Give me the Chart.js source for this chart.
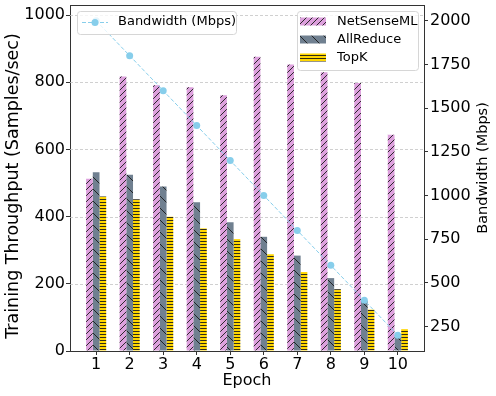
<!DOCTYPE html>
<html>
<head>
<meta charset="utf-8">
<script src="https://cdn.jsdelivr.net/npm/chart.js@4/dist/chart.umd.min.js"></script>
<style>
  html, body { margin: 0; padding: 0; background: #fff; }
  #c { display: block; }
</style>
</head>
<body>
<canvas id="c" width="496" height="396"></canvas>
<script>
const epochs = [1, 2, 3, 4, 5, 6, 7, 8, 9, 10];
const netSenseML = [513, 817, 791, 785, 761, 876, 853, 830, 798, 644];
const allReduce = [532, 525, 490, 443, 383, 340, 284, 217, 149, 48];
const topK = [460, 452, 400, 365, 333, 288, 235, 184, 123, 65];
const bandwidth = [2000, 1800, 1600, 1400, 1200, 1000, 800, 600, 400, 200];
const leftTicks = [0, 200, 400, 600, 800, 1000];
const rightTicks = [250, 500, 750, 1000, 1250, 1500, 1750, 2000];

const FONT = '"DejaVu Sans", "Liberation Sans", sans-serif';

function makePattern(bg, kind, T) {
  const c = document.createElement('canvas');
  c.width = T; c.height = T;
  const g = c.getContext('2d');
  g.fillStyle = bg; g.fillRect(0, 0, T, T);
  g.strokeStyle = '#1a1a1a'; g.lineWidth = 0.9;
  g.beginPath();
  if (kind === '/') {
    for (const x0 of [-T, 0, T]) { g.moveTo(x0, T); g.lineTo(x0 + T, 0); }
  } else if (kind === '\\') {
    for (const x0 of [-T, 0, T]) { g.moveTo(x0, 0); g.lineTo(x0 + T, T); }
  } else {
    g.moveTo(0, T / 2); g.lineTo(T, T / 2);
  }
  g.stroke();
  return g.createPattern(c, 'repeat');
}

const ctx = document.getElementById('c').getContext('2d');
const pinkPat = makePattern('#DDA0DD', '/', 6);
const grayPat = makePattern('#708090', '\\', 12);
const yellowPat = makePattern('#FFD700', '-', 3);

function zeroPad(s) { s.paddingTop = 0; s.paddingBottom = 0; s.paddingLeft = 0; s.paddingRight = 0; }

const decorPlugin = {
  id: 'decor',
  beforeDatasetsDraw(chart) {
    const { ctx, chartArea: a, scales } = chart;
    ctx.save();
    ctx.strokeStyle = '#c4c4c4';
    ctx.lineWidth = 0.8;
    ctx.setLineDash([3, 2]);
    for (const v of leftTicks) {
      if (v === 0) continue;
      const y = Math.round(scales.y.getPixelForValue(v)) + 0.5;
      ctx.beginPath(); ctx.moveTo(a.left, y); ctx.lineTo(a.right, y); ctx.stroke();
    }
    ctx.restore();
  },
  afterDraw(chart) {
    const { ctx, chartArea: a } = chart;
    ctx.save();
    // top spine
    ctx.strokeStyle = '#333';
    ctx.lineWidth = 1;
    ctx.beginPath(); ctx.moveTo(a.left, Math.round(a.top) + 0.5); ctx.lineTo(a.right, Math.round(a.top) + 0.5); ctx.stroke();

    // axis titles
    ctx.fillStyle = '#000';
    ctx.textAlign = 'center';
    ctx.textBaseline = 'middle';
    ctx.font = '16px ' + FONT;
    ctx.fillText('Epoch', (a.left + a.right) / 2, 381);
    ctx.save();
    ctx.translate(13, 186);
    ctx.rotate(-Math.PI / 2);
    ctx.font = '17.5px ' + FONT;
    ctx.fillText('Training Throughput (Samples/sec)', 0, 0);
    ctx.restore();
    ctx.save();
    ctx.translate(483, 168);
    ctx.rotate(-Math.PI / 2);
    ctx.font = '14.5px ' + FONT;
    ctx.fillText('Bandwidth (Mbps)', 0, 0);
    ctx.restore();

    // legend boxes
    function box(x, y, w, h) {
      const r = 3;
      ctx.beginPath();
      ctx.moveTo(x + r, y);
      ctx.lineTo(x + w - r, y); ctx.quadraticCurveTo(x + w, y, x + w, y + r);
      ctx.lineTo(x + w, y + h - r); ctx.quadraticCurveTo(x + w, y + h, x + w - r, y + h);
      ctx.lineTo(x + r, y + h); ctx.quadraticCurveTo(x, y + h, x, y + h - r);
      ctx.lineTo(x, y + r); ctx.quadraticCurveTo(x, y, x + r, y);
      ctx.closePath();
      ctx.fillStyle = 'rgba(255,255,255,0.8)';
      ctx.fill();
      ctx.strokeStyle = '#d6d6d6';
      ctx.lineWidth = 1;
      ctx.stroke();
    }
    const ds = chart.data.datasets;
    // line legend
    box(77.5, 11.5, 159, 23);
    const lineDs = ds.find(d => d.type === 'line');
    ctx.strokeStyle = lineDs.borderColor;
    ctx.lineWidth = 1;
    ctx.setLineDash([4, 2]);
    ctx.beginPath(); ctx.moveTo(82, 22.5); ctx.lineTo(108, 22.5); ctx.stroke();
    ctx.setLineDash([]);
    ctx.fillStyle = lineDs.pointBackgroundColor;
    ctx.beginPath(); ctx.arc(95, 22.5, 3.5, 0, Math.PI * 2); ctx.fill();
    ctx.fillStyle = '#000';
    ctx.textAlign = 'left';
    ctx.textBaseline = 'middle';
    ctx.font = '13px ' + FONT;
    ctx.fillText(lineDs.label, 118, 22);

    // bar legend
    box(297.5, 11.5, 121, 59);
    const bars = ds.filter(d => d.type !== 'line');
    const rows = [21.5, 39.5, 57.5];
    bars.forEach((d, i) => {
      ctx.fillStyle = d.backgroundColor;
      ctx.fillRect(300, rows[i] - 4, 26, 8);
      ctx.fillStyle = '#000';
      ctx.fillText(d.label, 337, rows[i]);
    });
    ctx.restore();
  }
};

new Chart(ctx, {
  type: 'bar',
  data: {
    labels: epochs,
    datasets: [
      { type: 'line', label: 'Bandwidth (Mbps)', data: bandwidth, yAxisID: 'y1', xAxisID: 'x',
        borderColor: '#87CEEB', backgroundColor: '#87CEEB', borderWidth: 1, borderDash: [4, 2],
        pointRadius: 3.5, pointBackgroundColor: '#87CEEB', pointBorderWidth: 0, order: 0, fill: false, tension: 0 },
      { label: 'NetSenseML', data: netSenseML, backgroundColor: pinkPat, yAxisID: 'y', order: 1,
        categoryPercentage: 0.6, barPercentage: 1.0, borderWidth: 0 },
      { label: 'AllReduce', data: allReduce, backgroundColor: grayPat, yAxisID: 'y', order: 1,
        categoryPercentage: 0.6, barPercentage: 1.0, borderWidth: 0 },
      { label: 'TopK', data: topK, backgroundColor: yellowPat, yAxisID: 'y', order: 1,
        categoryPercentage: 0.6, barPercentage: 1.0, borderWidth: 0 }
    ]
  },
  options: {
    responsive: false,
    animation: false,
    devicePixelRatio: 1,
    layout: { padding: { top: 5, left: 0, right: 0, bottom: 0 } },
    plugins: { legend: { display: false }, tooltip: { enabled: false } },
    scales: {
      x: {
        type: 'linear', position: 'bottom', min: 0.22, max: 10.78, offset: false,
        afterBuildTicks: s => { s.ticks = epochs.map(v => ({ value: v })); },
        afterFit: s => { s.height = 45; zeroPad(s); },
        ticks: { font: { family: FONT, size: 16 }, color: '#000', padding: 0, maxRotation: 0, autoSkip: false,
                 callback: v => String(v) },
        grid: { drawOnChartArea: false, drawTicks: true, tickLength: 4, tickColor: '#333', offset: false },
        border: { color: '#333', width: 1 }
      },
      y: {
        type: 'linear', position: 'left', min: 0, max: 1030,
        afterBuildTicks: s => { s.ticks = leftTicks.map(v => ({ value: v })); },
        afterFit: s => { s.width = 70; zeroPad(s); },
        ticks: { font: { family: FONT, size: 16 }, color: '#000', padding: 1, callback: v => String(v) },
        grid: { drawOnChartArea: false, drawTicks: true, tickLength: 4, tickColor: '#333' },
        border: { color: '#333', width: 1 }
      },
      y1: {
        type: 'linear', position: 'right', min: 110, max: 2090,
        afterBuildTicks: s => { s.ticks = rightTicks.map(v => ({ value: v })); },
        afterFit: s => { s.width = 72; zeroPad(s); },
        ticks: { font: { family: FONT, size: 16 }, color: '#000', padding: 2, callback: v => String(v) },
        grid: { drawOnChartArea: false, drawTicks: true, tickLength: 4, tickColor: '#333' },
        border: { color: '#333', width: 1 }
      }
    }
  },
  plugins: [decorPlugin]
});
</script>
</body>
</html>
